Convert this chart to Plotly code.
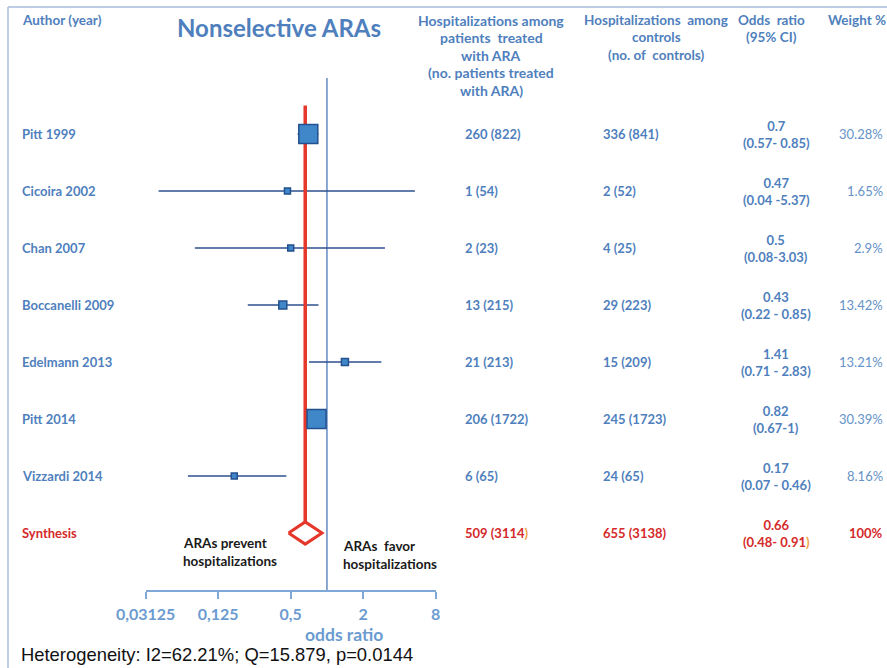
import plotly.graph_objects as go

# ---- study data -------------------------------------------------------------
studies = ["Pitt 1999", "Cicoira 2002", "Chan 2007", "Boccanelli 2009",
           "Edelmann 2013", "Pitt 2014", "Vizzardi 2014"]
events_ara = [260, 1, 2, 13, 21, 206, 6]
n_ara = [822, 54, 23, 215, 213, 1722, 65]
events_ctrl = [336, 2, 4, 29, 15, 245, 24]
n_ctrl = [841, 52, 25, 223, 209, 1723, 65]
odds_ratio = [0.7, 0.47, 0.5, 0.43, 1.41, 0.82, 0.17]
ci_low = [0.57, 0.04, 0.08, 0.22, 0.71, 0.67, 0.07]
ci_high = [0.85, 5.37, 3.03, 0.85, 2.83, 1, 0.46]
weight_pct = [30.28, 1.65, 2.9, 13.42, 13.21, 30.39, 8.16]

# pooled estimate
pooled_label = "Synthesis"
pooled_events_ara, pooled_n_ara = 509, 3114
pooled_events_ctrl, pooled_n_ctrl = 655, 3138
pooled_or, pooled_low, pooled_high = 0.66, 0.48, 0.91
pooled_weight = 100

tick_vals = [0.03125, 0.125, 0.5, 2, 8]
tick_text = ["0,03125", "0,125", "0,5", "2", "8"]

# column headers, one entry per printed line
hdr_treated = ["Hospitalizations among", "patients  treated", "with ARA",
               "(no. patients treated", "with ARA)"]
hdr_controls = ["Hospitalizations  among", "controls", "(no. of  controls)"]
hdr_or = ["Odds  ratio", "(95% CI)"]
hdr_weight = ["Weight %"]

# ---- styling ----------------------------------------------------------------
W, H = 887, 668
BLUE_TXT = "#4f7fbd"
BLUE_LIGHT = "#6b9bd0"
NAVY = "#2c4f8f"
SQ_FILL = "#3f87c8"
RED = "#e5372a"
RED_TXT = "#d42a2a"
ORANGE = "#f0a23c"
FONT = "Lato"
square_px = [19, 6, 6, 8, 7, 19, 6]
ci_sep = ["- ", " -", "-", " - ", " - ", "-", " - "]


def px_x(p):
    return p / W


def px_y(p):
    return 1 - p / H


def fmt(v):
    return f"{v:g}"


fig = go.Figure()

rows = list(range(len(studies)))
pooled_row = len(studies)

# confidence-interval whiskers
xs, ys = [], []
for r, lo, hi in zip(rows, ci_low, ci_high):
    xs += [lo, hi, None]
    ys += [r, r, None]
fig.add_trace(go.Scatter(x=xs, y=ys, mode="lines",
                         line=dict(color=NAVY, width=1.6),
                         hoverinfo="skip", showlegend=False))

# pooled estimate vertical line and diamond
half_h = 0.195
fig.add_trace(go.Scatter(x=[pooled_or, pooled_or], y=[-0.5, pooled_row - half_h],
                         mode="lines", line=dict(color=RED, width=3.5),
                         hoverinfo="skip", showlegend=False))
fig.add_trace(go.Scatter(
    x=[pooled_low, pooled_or, pooled_high, pooled_or, pooled_low],
    y=[pooled_row, pooled_row - half_h, pooled_row, pooled_row + half_h, pooled_row],
    mode="lines", line=dict(color=RED, width=3),
    hoverinfo="skip", showlegend=False))

# study point estimates
fig.add_trace(go.Scatter(x=odds_ratio, y=rows, mode="markers",
                         marker=dict(symbol="square", size=square_px, color=SQ_FILL,
                                     opacity=1,
                                     line=dict(color="#23508e", width=1.5)),
                         hoverinfo="skip", showlegend=False))

# ---- axes -------------------------------------------------------------------
axis_px = 590
fig.update_xaxes(type="log", domain=[145.7 / W, 435.7 / W],
                 range=[-1.50515, 0.90309], automargin=False,
                 tickvals=tick_vals, ticktext=tick_text,
                 showline=True, linecolor="#7ea8d8", linewidth=2,
                 ticks="outside", ticklen=7, tickwidth=2, tickcolor="#7ea8d8",
                 tickfont=dict(family=FONT, size=16, color=BLUE_LIGHT, weight="bold"),
                 ticklabelstandoff=2,
                 showgrid=False, zeroline=False)
fig.update_yaxes(domain=[px_y(axis_px), 1], range=[8.0, -2.351], automargin=False,
                 visible=False, showgrid=False, zeroline=False)

shapes = [
    # line of no effect
    dict(type="line", xref="x", yref="paper", x0=1, x1=1,
         y0=px_y(axis_px), y1=px_y(78), line=dict(color="#4a78b8", width=1.3),
         layer="below"),
    # frame
    dict(type="line", xref="paper", yref="paper", x0=px_x(8), x1=1,
         y0=px_y(7), y1=px_y(7), line=dict(color="#a7bedb", width=1.5)),
    dict(type="line", xref="paper", yref="paper", x0=px_x(8), x1=px_x(8),
         y0=px_y(7), y1=0, line=dict(color="#a7bedb", width=1.5)),
]

ann = []


def text(x, y, s, size=13, color=BLUE_TXT, bold=True, xanchor="left",
         yanchor="middle", align="left", yref="paper", family=FONT):
    ann.append(dict(x=x, y=y, xref="paper", yref=yref, text=s, showarrow=False,
                    xanchor=xanchor, yanchor=yanchor, align=align,
                    font=dict(family=family, size=size, color=color,
                              weight="bold" if bold else "normal")))


def header(lines, cx, size):
    for k, s in enumerate(lines):
        text(px_x(cx), px_y(20 + 17.5 * k), s, size=size, xanchor="center")


# headers
text(px_x(20), px_y(20), "Author (year)", size=13.5)
text(px_x(279), px_y(27), "Nonselective ARAs", size=24, xanchor="center")
header(hdr_treated, 491, 14)
header(hdr_controls, 656, 13.5)
header(hdr_or, 771, 13.5)
header(hdr_weight, 857, 13.5)

# table rows
for r in rows:
    text(px_x(20), r, studies[r], yref="y")
    text(px_x(463), r, f"{events_ara[r]} ({n_ara[r]})", yref="y")
    text(px_x(601), r, f"{events_ctrl[r]} ({n_ctrl[r]})", yref="y")
    text(px_x(776), r, f"{fmt(odds_ratio[r])}<br>({fmt(ci_low[r])}{ci_sep[r]}{fmt(ci_high[r])})",
         yref="y", xanchor="center", align="center")
    text(px_x(885), r, f"{fmt(weight_pct[r])}%", yref="y", xanchor="right",
         bold=False, color="#6592c8")

orange_paren = f"<span style='color:{ORANGE}'>)</span>"
text(px_x(20), pooled_row, pooled_label, yref="y", color=RED_TXT)
text(px_x(463), pooled_row, f"{pooled_events_ara} ({pooled_n_ara}{orange_paren}",
     yref="y", color=RED_TXT)
text(px_x(601), pooled_row, f"{pooled_events_ctrl} ({pooled_n_ctrl})", yref="y",
     color=RED_TXT)
text(px_x(776), pooled_row,
     f"{fmt(pooled_or)}<br>({fmt(pooled_low)}- {fmt(pooled_high)}{orange_paren}",
     yref="y", xanchor="center", align="center", color=RED_TXT)
text(px_x(885), pooled_row, f"{pooled_weight}%", yref="y", xanchor="right",
     color=RED_TXT)

# direction labels
text(px_x(181), px_y(543), "ARAs prevent", size=13.5, color="#1a1a1a")
text(px_x(181), px_y(561), "hospitalizations", size=13.5, color="#1a1a1a")
text(px_x(341), px_y(546), "ARAs  favor", size=13.5, color="#1a1a1a")
text(px_x(341), px_y(564), "hospitalizations", size=13.5, color="#1a1a1a")

# axis title and heterogeneity note
text(px_x(344), px_y(634), "odds ratio", size=17.5, color=BLUE_LIGHT,
     xanchor="center")
text(px_x(19), px_y(654), "Heterogeneity: I2=62.21%; Q=15.879, p=0.0144", size=18.4,
     color="#111111", bold=False, family="Liberation Sans")

fig.update_layout(width=W, height=H, margin=dict(l=0, r=0, t=0, b=0, pad=0),
                  paper_bgcolor="white", plot_bgcolor="white",
                  shapes=shapes, annotations=ann, showlegend=False)

fig.write_html("out.html", config={"displayModeBar": False})
